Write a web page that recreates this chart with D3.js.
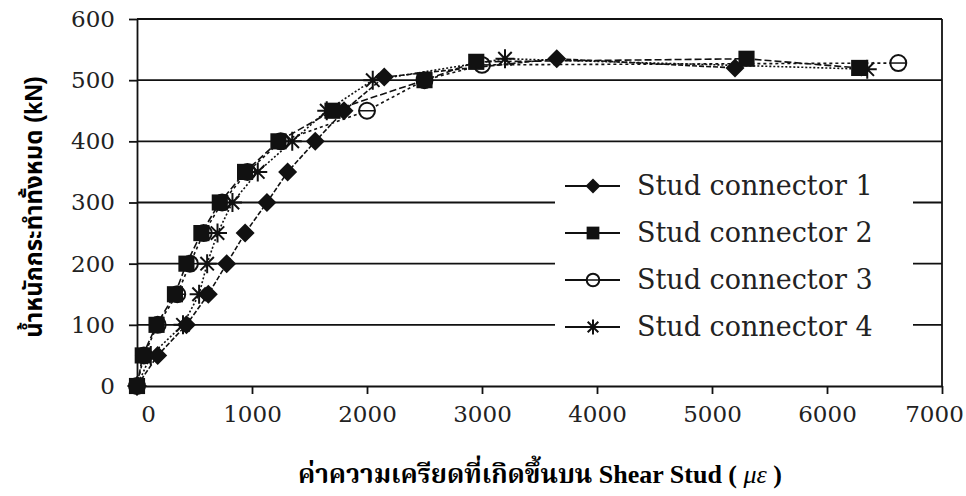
<!DOCTYPE html>
<html>
<head>
<meta charset="utf-8">
<script src="https://cdn.jsdelivr.net/npm/d3@7/dist/d3.min.js"></script>
<style>
  body { margin: 0; background: #fff; }
</style>
</head>
<body>
<svg id="chart" width="966" height="496"></svg>
<script>
// strain (micro-strain) / load (kN)
var stud1X = [0, 180, 430, 620, 780, 940, 1130, 1310, 1550, 1800, 2150, 3650, 5200];
var stud1Y = [0, 50, 100, 150, 200, 250, 300, 350, 400, 450, 505, 535, 520];
var stud2X = [0, 50, 170, 330, 430, 560, 720, 940, 1230, 1700, 2500, 2950, 5300, 6280];
var stud2Y = [0, 50, 100, 150, 200, 250, 300, 350, 400, 450, 500, 530, 535, 520];
var stud3X = [0, 60, 180, 350, 460, 580, 740, 960, 1250, 2000, 2500, 3000, 6620];
var stud3Y = [0, 50, 100, 150, 200, 250, 300, 350, 400, 450, 500, 525, 528];
var stud4X = [0, 120, 400, 540, 610, 700, 830, 1050, 1350, 1650, 2050, 3200, 6350];
var stud4Y = [0, 50, 100, 150, 200, 250, 300, 350, 400, 450, 500, 535, 518];

var seriesNames = ["Stud connector 1", "Stud connector 2", "Stud connector 3", "Stud connector 4"];
var seriesShapes = ["diamond", "square", "circle", "star"];
var seriesDash = ["5,2", "7,3", "3,3", "2,2"];
var xTicks = [0, 1000, 2000, 3000, 4000, 5000, 6000, 7000];
var yTicks = [0, 100, 200, 300, 400, 500, 600];

var series = [
  { x: stud1X, y: stud1Y },
  { x: stud2X, y: stud2Y },
  { x: stud3X, y: stud3Y },
  { x: stud4X, y: stud4Y }
];

var svg = d3.select("#chart");
var serif = "'DejaVu Serif', serif";
var thaiSans = "'Liberation Sans', 'Noto Sans Thai', sans-serif";
var thaiSerif = "'Liberation Serif', 'Noto Serif Thai', serif";

var xScale = d3.scaleLinear().domain([0, 7000]).range([137, 942]);
var yScale = d3.scaleLinear().domain([0, 600]).range([386, 19]);

// gridlines
svg.append("g")
  .selectAll("line")
  .data(yTicks.filter(function (d) { return d > 0; }))
  .enter()
  .append("line")
  .attr("x1", xScale(0))
  .attr("x2", xScale(7000))
  .attr("y1", function (d) { return yScale(d); })
  .attr("y2", function (d) { return yScale(d); })
  .style("stroke", "#111")
  .style("stroke-width", 1.8);

// right frame
svg.append("line")
  .attr("x1", xScale(7000)).attr("x2", xScale(7000))
  .attr("y1", yScale(600)).attr("y2", yScale(0))
  .style("stroke", "#111").style("stroke-width", 1.8);

var xAxis = d3.axisBottom(xScale).tickValues(xTicks).tickFormat(d3.format("d")).tickSize(8).tickSizeOuter(0);
var yAxis = d3.axisLeft(yScale).tickValues(yTicks).tickFormat(d3.format("d")).tickSize(8).tickSizeOuter(0);

var gx = svg.append("g")
  .attr("transform", "translate(0," + yScale(0) + ")")
  .call(xAxis);
gx.select(".domain").style("stroke", "#111").style("stroke-width", 1.8);
gx.selectAll(".tick line").style("stroke", "#111").style("stroke-width", 1.8);
gx.selectAll(".tick text")
  .attr("y", 20)
  .style("font-family", serif)
  .style("font-size", "23px")
  .style("fill", "#222");
gx.selectAll(".tick text").filter(function (d) { return d === 0; }).attr("dx", 11);
gx.selectAll(".tick text").filter(function (d) { return d === 7000; }).attr("dx", -8);

var gy = svg.append("g")
  .attr("transform", "translate(" + xScale(0) + ",0)")
  .call(yAxis);
gy.select(".domain").style("stroke", "#111").style("stroke-width", 1.8);
gy.selectAll(".tick line").style("stroke", "#111").style("stroke-width", 1.8);
gy.selectAll(".tick text")
  .attr("x", -22)
  .style("font-family", serif)
  .style("font-size", "23px")
  .style("fill", "#222");

function markerPath(shape, s) {
  var h = s / 2;
  if (shape === "diamond") {
    return "M0," + (-h) + "L" + h + ",0L0," + h + "L" + (-h) + ",0Z";
  }
  if (shape === "square") {
    var q = h * 0.85;
    return "M" + (-q) + "," + (-q) + "H" + q + "V" + q + "H" + (-q) + "Z";
  }
  // star: eight spokes
  var p = "";
  for (var k = 0; k < 4; k++) {
    var a = (k * Math.PI) / 4;
    var dx = Math.cos(a) * h, dy = Math.sin(a) * h;
    p += "M" + (-dx) + "," + (-dy) + "L" + dx + "," + dy;
  }
  return p;
}

function drawMarker(g, shape, s) {
  if (shape === "circle") {
    g.append("circle").attr("r", s * 0.42)
      .style("fill", "#fff").style("stroke", "#111").style("stroke-width", 2);
    g.append("line").attr("x1", -s * 0.42).attr("x2", s * 0.42)
      .style("stroke", "#111").style("stroke-width", 1.5);
  } else if (shape === "star") {
    g.append("path").attr("d", markerPath(shape, s))
      .style("fill", "none").style("stroke", "#111").style("stroke-width", 2);
  } else {
    g.append("path").attr("d", markerPath(shape, s)).style("fill", "#111");
  }
}

var line = d3.line()
  .x(function (d) { return xScale(d[0]); })
  .y(function (d) { return yScale(d[1]); });

// draw circles first so filled markers sit on top
var order = [2, 3, 0, 1];
order.forEach(function (i) {
  var pts = series[i].x.map(function (v, j) { return [v, series[i].y[j]]; });
  svg.append("path")
    .datum(pts)
    .attr("d", line)
    .style("fill", "none")
    .style("stroke", "#111")
    .style("stroke-width", 1.6)
    .style("stroke-dasharray", seriesDash[i]);
  pts.forEach(function (p) {
    var g = svg.append("g")
      .attr("transform", "translate(" + xScale(p[0]) + "," + yScale(p[1]) + ")");
    drawMarker(g, seriesShapes[i], 19);
  });
});

// legend
svg.append("rect")
  .attr("x", 555).attr("y", 165)
  .attr("width", 358).attr("height", 180)
  .style("fill", "#fff");

seriesNames.forEach(function (name, i) {
  var cy = 186 + i * 47;
  svg.append("line")
    .attr("x1", 565).attr("x2", 620)
    .attr("y1", cy).attr("y2", cy)
    .style("stroke", "#111").style("stroke-width", 2);
  var g = svg.append("g").attr("transform", "translate(593," + cy + ")");
  drawMarker(g, seriesShapes[i], 15);
  svg.append("text")
    .attr("x", 637).attr("y", cy + 9)
    .style("font-family", serif)
    .style("font-size", "27px")
    .style("fill", "#222")
    .text(name);
});

// axis titles
svg.append("text")
  .attr("text-anchor", "middle")
  .attr("transform", "translate(42,207)rotate(-90)")
  .style("font-family", thaiSans)
  .style("font-weight", "bold")
  .style("font-size", "24px")
  .text("น้ำหนักกระทำทั้งหมด (kN)");

var xt = svg.append("text")
  .attr("x", 540).attr("y", 483)
  .attr("text-anchor", "middle")
  .style("font-family", thaiSerif)
  .style("font-weight", "bold")
  .style("font-size", "26px");
xt.append("tspan").text("ค่าความเครียดที่เกิดขึ้นบน Shear Stud ( ");
xt.append("tspan").style("font-style", "italic").style("font-weight", "normal").text("με");
xt.append("tspan").text(" )");
</script>
</body>
</html>
